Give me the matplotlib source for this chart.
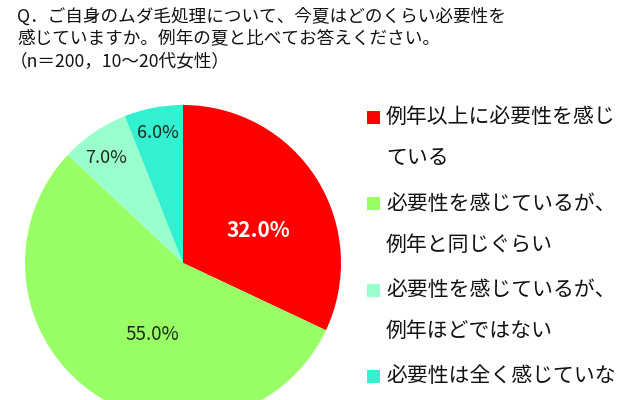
import matplotlib
matplotlib.use("Agg")
import matplotlib.pyplot as plt
from matplotlib.patches import Rectangle
import numpy as np

plt.rcParams['font.family'] = ['Noto Sans CJK JP', 'DejaVu Sans']

# data
title_lines = [
    "Q．ご自身のムダ毛処理について、今夏はどのくらい必要性を",
    "感じていますか。例年の夏と比べてお答えください。",
    "（n＝200，10〜20代女性）",
]
labels = [
    ["例年以上に必要性を感じ", "ている"],
    ["必要性を感じているが、", "例年と同じぐらい"],
    ["必要性を感じているが、", "例年ほどではない"],
    ["必要性は全く感じていな"],  # rest of the label falls below the crop
]
values = [32.0, 55.0, 7.0, 6.0]
colors = ['#ff0000', '#99ff66', '#99ffcc', '#33f0d0']

# label placement per slice (fraction of radius, angle shift in degrees)
pct_dist = [0.52, 0.49, 0.82, 0.84]
pct_shift = [-9, 11, 2, 0]
pct_style = [dict(color='white', fontsize=15, fontweight='bold'),
             dict(color='#1e2a1e', fontsize=13.5),
             dict(color='#1e2a1e', fontsize=13),
             dict(color='#1e2a1e', fontsize=13)]

fig = plt.figure(figsize=(6.4, 4.0), dpi=100)
ax = fig.add_axes([0, 0, 1, 1])

cx, cy, r = 183, 400 - 263, 158
wedges, _ = ax.pie(values, colors=colors, startangle=90, counterclock=False,
                   center=(cx, cy), radius=r, wedgeprops=dict(linewidth=0))

for w, v, d, s, st in zip(wedges, values, pct_dist, pct_shift, pct_style):
    ang = np.deg2rad((w.theta1 + w.theta2) / 2 + s)
    ax.text(cx + d * r * np.cos(ang), cy + d * r * np.sin(ang), f"{v:.1f}%",
            ha='center', va='center', **st)

ax.set_xlim(0, 640)
ax.set_ylim(0, 400)
ax.set_aspect('equal')
ax.axis('off')

# title
for i, line in enumerate(title_lines):
    x0 = 17 if i < 2 else 10
    ax.text(x0, 400 - (17 + 22.5 * i), line, fontsize=12.7, color='#111111',
            ha='left', va='center')

# legend
for i, (lab, c) in enumerate(zip(labels, colors)):
    y1 = 400 - (117 + 86.5 * i)
    ax.add_patch(Rectangle((367, y1 - 6.5), 13, 13, facecolor=c, edgecolor='none'))
    for k, part in enumerate(lab):
        ax.text(386, y1 - 41 * k, part, fontsize=15, color='#111111',
                ha='left', va='center')

fig.savefig("out.png", dpi=100)
